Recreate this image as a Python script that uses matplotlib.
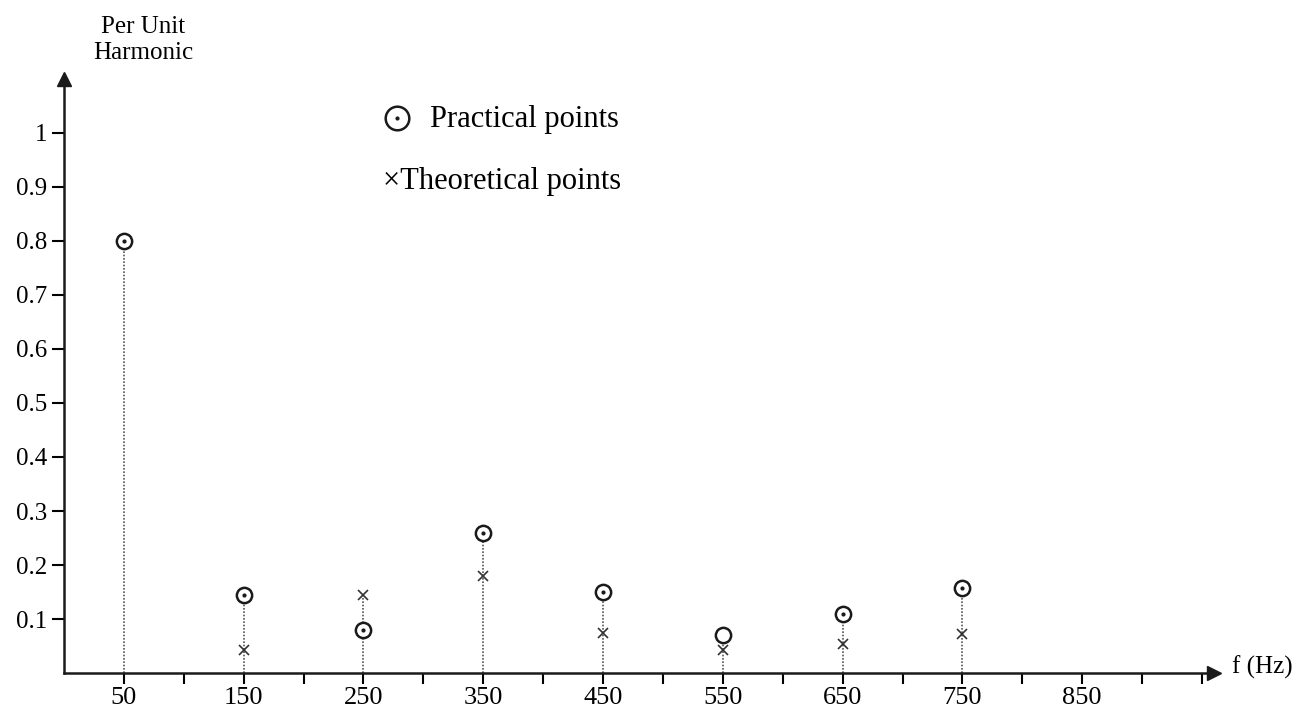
import matplotlib
matplotlib.use("Agg")
import matplotlib.pyplot as plt

freq = [50, 150, 250, 350, 450, 550, 650, 750]
practical = [0.80, 0.145, 0.08, 0.26, 0.15, 0.07, 0.11, 0.157]
practical_dotted = [True, True, True, True, True, False, True, True]
theoretical = [None, 0.042, 0.145, 0.18, 0.074, 0.042, 0.053, 0.073]
xtick_labels = ["50", "150", "250", "350", "450", "550", "650", "750", "850"]
ytick_values = [0.1, 0.2, 0.3, 0.4, 0.5, 0.6, 0.7, 0.8, 0.9, 1]

plt.rcParams['font.family'] = ['Liberation Serif', 'DejaVu Serif']

fig = plt.figure(figsize=(13.11, 7.18), dpi=100)
ax = fig.add_axes([64 / 1311, 45 / 718, 1150 / 1311, 594 / 718])
ax.set_xlim(0, 960)
ax.set_ylim(0, 1.1)

for s in ["top", "right"]:
    ax.spines[s].set_visible(False)
for s in ["left", "bottom"]:
    ax.spines[s].set_linewidth(1.8)
    ax.spines[s].set_color("#1a1a1a")

# axis arrows
ax.plot(1, 0, ">", color="#1a1a1a", ms=10, transform=ax.transAxes, clip_on=False)
ax.plot(0, 1, "^", color="#1a1a1a", ms=10, transform=ax.transAxes, clip_on=False)

# stems
tops = [max(p, t if t is not None else 0) for p, t in zip(practical, theoretical)]
ax.vlines(freq, 0, tops, colors="#555555", linestyles=(0, (1, 1)), linewidth=1.2)

# points
ax.plot(freq, practical, "o", ms=11, mfc="white", mec="#1a1a1a", mew=1.8, zorder=3)
df = [f for f, d in zip(freq, practical_dotted) if d]
dv = [p for p, d in zip(practical, practical_dotted) if d]
ax.plot(df, dv, ".", ms=4, color="#1a1a1a", zorder=4)
tf = [f for f, t in zip(freq, theoretical) if t is not None]
tv = [t for t in theoretical if t is not None]
ax.plot(tf, tv, "x", ms=7, mec="#333333", mew=1.2, zorder=3)

# ticks
xticks = list(range(50, 951, 50))
ax.set_xticks(xticks)
ax.set_xticklabels([xtick_labels[i // 2] if i % 2 == 0 and i // 2 < len(xtick_labels) else ""
                    for i in range(len(xticks))])
ax.set_yticks(ytick_values)
ax.set_yticklabels(["0.1", "0.2", "0.3", "0.4", "0.5", "0.6", "0.7", "0.8", "0.9", "1"])
ax.tick_params(axis="x", direction="out", length=8, width=1.5, labelsize=19, pad=2)
ax.tick_params(axis="y", direction="out", length=9, width=1.5, labelsize=18, pad=3)

# axis labels
fig.text(143 / 1311, 1 - 40 / 718, "Per Unit\nHarmonic", ha="center", va="center",
         fontsize=18, linespacing=1.2)
fig.text(1232 / 1311, 1 - 667 / 718, "f (Hz)", ha="left", va="center", fontsize=18)

# legend
fig.lines.append(plt.Line2D([397 / 1311], [1 - 118 / 718], marker="o", ms=17, mfc="white",
                            mec="#1a1a1a", mew=1.8, transform=fig.transFigure))
fig.lines.append(plt.Line2D([397 / 1311], [1 - 118 / 718], marker=".", ms=4, color="#1a1a1a",
                            transform=fig.transFigure))
fig.text(430 / 1311, 1 - 120 / 718, "Practical points", ha="left", va="center", fontsize=22)
fig.text(383 / 1311, 1 - 181 / 718, "\u00d7Theoretical points", ha="left", va="center", fontsize=22)

fig.savefig("out.png", dpi=100)
